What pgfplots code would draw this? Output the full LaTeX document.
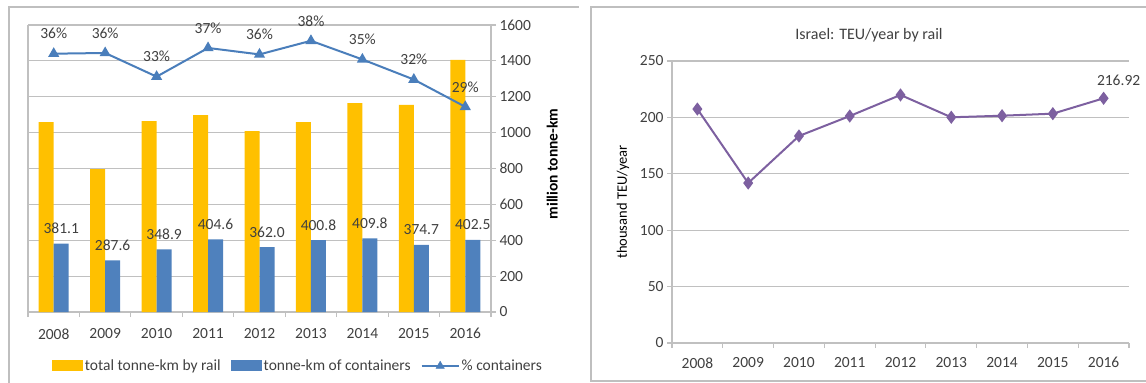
\documentclass[border=0pt]{standalone}
\usepackage{pgfplots}
\pgfplotsset{compat=1.18}
\usepackage{fontspec}
\setmainfont{Carlito}
\definecolor{yellowc}{HTML}{FFC000}
\definecolor{bluec}{HTML}{4F81BD}
\definecolor{linec}{HTML}{4A7EBB}
\definecolor{purplec}{HTML}{7D60A0}
\definecolor{textc}{HTML}{404040}
\definecolor{gridc}{HTML}{C0C0C0}
\definecolor{framec}{HTML}{BFBFBF}
\newcommand\cf{\fontsize{15.5bp}{18bp}\selectfont}
\begin{document}
\begin{tikzpicture}
\useasboundingbox (0bp,0bp) rectangle (1146bp,383bp);
% frames
\draw[framec, line width=2bp] (9bp,-5bp) -- (9bp,376bp) -- (579bp,376bp);
\draw[framec, line width=2bp] (591bp,2bp) rectangle (1160bp,376bp);
\pgfplotsset{
  common/.style={
    scale only axis, anchor=south west, clip=false,
    xmin=-0.5, xmax=8.5,
    xtick={0,...,8},
    xticklabels={2008,2009,2010,2011,2012,2013,2014,2015,2016},
    major x tick style={draw=none},
    minor xtick={-0.5,0.5,...,8.5},
    minor tick length=5bp, major tick length=5bp, tick align=outside,
    axis line style={gridc, line width=1.2bp},
    tick style={gridc, line width=1.2bp},
    ymajorgrids, grid style={gridc, line width=1.2bp},
    tick label style={font=\cf, text=textc},
    /pgf/number format/assume math mode=true,
    /pgf/number format/1000 sep={},
  }
}
% ---------- left chart: bars ----------
\begin{axis}[common,
  at={(28bp,71bp)}, width=463bp, height=287bp,
  ymin=0, ymax=1600, ytick={0,200,...,1600},
  axis x line*=bottom, axis y line*=right,
  xticklabel style={yshift=-8bp},
  ybar=0pt, bar width=15bp,
  ylabel={\bfseries million tonne-km},
  ylabel style={font=\cf, text=black, at={(axis description cs:1.132,0.516)}, anchor=center},
  legend style={at={(axis description cs:0.583,-0.188)}, anchor=center, draw=none, fill=none,
    legend columns=-1, font=\cf, text=textc,
    nodes={inner xsep=2bp},
    /tikz/every even column/.append style={column sep=8bp}},
]
\addplot[fill=yellowc, draw=none,
  legend image code/.code={\fill[yellowc] (0bp,-5.5bp) rectangle (31bp,5.5bp);}]
  coordinates {(0,1059) (1,797) (2,1064) (3,1098) (4,1009) (5,1059) (6,1165) (7,1154) (8,1405)};
\addlegendentry{total tonne-km by rail}
\addplot[fill=bluec, draw=none,
  legend image code/.code={\fill[bluec] (0bp,-5.5bp) rectangle (31bp,5.5bp);},
  nodes near coords={\pgfmathprintnumber[fixed,fixed zerofill,precision=1]{\pgfplotspointmeta}},
  every node near coord/.append style={anchor=center, yshift=15bp, font=\cf, text=textc}]
  coordinates {(0,381.1) (1,287.6) (2,348.9) (3,404.6) (4,362.0) (5,400.8) (6,409.8) (7,374.7) (8,402.5)};
\addlegendentry{tonne-km of containers}
\addlegendimage{legend image code/.code={
  \draw[linec, line width=2bp] (0bp,0bp) -- (37bp,0bp);
  \fill[linec] (18.5bp,4.8bp) -- (14.3bp,-2.4bp) -- (22.7bp,-2.4bp) -- cycle;}}
\addlegendentry{\% containers}
\draw[gridc, line width=1.2bp] (rel axis cs:0,0) -- (rel axis cs:0,1);
\end{axis}
% ---------- left chart: percentage line ----------
\begin{axis}[
  scale only axis, anchor=south west, clip=false,
  at={(28bp,71bp)}, width=463bp, height=287bp,
  xmin=-0.5, xmax=8.5, ymin=0, ymax=40, hide axis,
  /pgf/number format/assume math mode=true]
\addplot[linec, line width=2bp, mark=triangle*, mark size=4.5bp, mark options={fill=linec},
  nodes near coords={\pgfmathprintnumber[fixed,precision=0]{\pgfplotspointmeta}\%},
  every node near coord/.append style={anchor=center, yshift=20bp, font=\cf, text=textc}]
  coordinates {(0,36.0) (1,36.1) (2,32.8) (3,36.8) (4,35.9) (5,37.8) (6,35.2) (7,32.4) (8,28.6)};
\end{axis}
% ---------- right chart ----------
\begin{axis}[common,
  at={(672bp,40bp)}, width=457bp, height=282bp,
  ymin=0, ymax=250, ytick={0,50,...,250},
  axis x line*=bottom, axis y line*=left,
  xticklabel style={yshift=-6bp},
  ylabel={thousand TEU/year},
  ylabel style={font=\fontsize{14.5bp}{17bp}\selectfont, text=black, at={(axis description cs:-0.107,0.5)}, anchor=center},
  every axis title shift=0pt,
  title={Israel: TEU/year by rail},
  title style={font=\fontsize{16bp}{19bp}\selectfont, text=textc, at={(axis description cs:0.431,1.09)}, anchor=center},
]
\addplot[purplec, line width=2bp, mark=diamond*, mark size=5bp, mark options={fill=purplec}]
  coordinates {(0,207.4) (1,141.8) (2,183.5) (3,201.2) (4,219.9) (5,200.1) (6,201.5) (7,203.3) (8,216.92)};
\node[font=\cf, text=textc, anchor=center, xshift=15bp, yshift=18bp] at (axis cs:8,216.92) {216.92};
\end{axis}
\end{tikzpicture}
\end{document}
